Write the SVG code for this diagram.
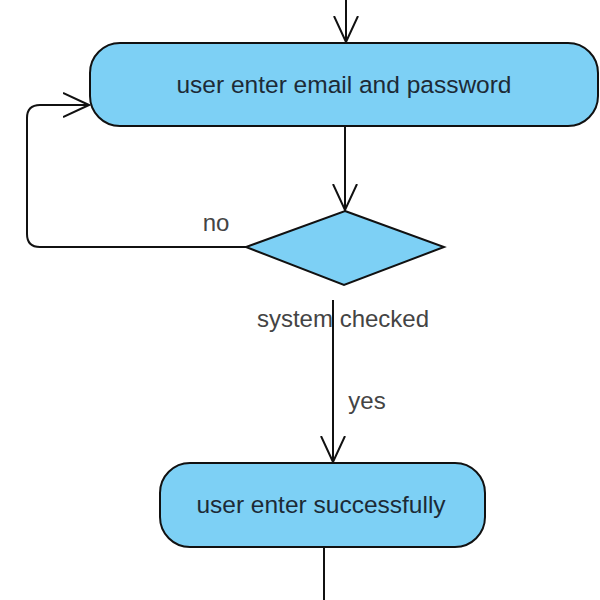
<svg xmlns="http://www.w3.org/2000/svg" width="600" height="600" viewBox="0 0 600 600">
<style>
.node{fill:#7dd0f5;stroke:#111;stroke-width:2}
.edge{fill:none;stroke:#111;stroke-width:2}
.nt{font-family:"Liberation Sans",Arial,sans-serif;font-size:24.5px;fill:#1c2a36;text-anchor:middle}
.lt{font-family:"Liberation Sans",Arial,sans-serif;font-size:24px;fill:#444;text-anchor:middle}
</style>
<defs>
<marker id="open" viewBox="0 0 28 26" refX="26" refY="13" markerWidth="28" markerHeight="26" markerUnits="userSpaceOnUse" orient="auto">
<path d="M0,1 L26,13 L0,25" fill="none" stroke="#111" stroke-width="2"/>
</marker>
</defs>
<rect width="600" height="600" fill="#fff"/>
<g id="connectors">
<path class="edge" d="M346,0 L346,42" marker-end="url(#open)"/>
<path class="edge" d="M345,126 L345,210" marker-end="url(#open)"/>
<path class="edge" d="M246,247 L40,247 Q27,247 27,234 L27,118 Q27,105 40,105 L89,105" marker-end="url(#open)"/>
<path class="edge" d="M333,300 L333,462" marker-end="url(#open)"/>
<path class="edge" d="M324,547 L324,600"/>
<text class="lt" x="216" y="231">no</text>
<text class="lt" x="343" y="327">system checked</text>
<text class="lt" x="367" y="409">yes</text>
</g>
<g id="node-enter">
<rect class="node" x="90" y="43" width="508" height="83" rx="30" ry="30"/>
<text class="nt" x="344" y="93">user enter email and password</text>
</g>
<g id="node-check">
<polygon class="node" points="345,211 444,247 344,285 246,247"/>
</g>
<g id="node-success">
<rect class="node" x="160" y="463" width="325" height="84" rx="30" ry="30"/>
<text class="nt" x="321" y="513">user enter successfully</text>
</g>
</svg>
